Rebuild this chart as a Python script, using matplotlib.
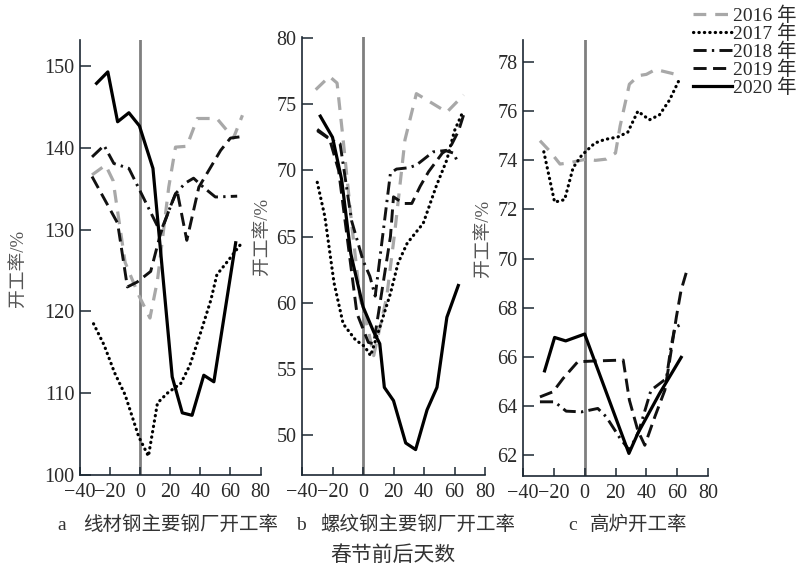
import matplotlib
matplotlib.use("Agg")
import matplotlib.pyplot as plt

plt.rcParams['font.family'] = ['Liberation Serif', 'Noto Sans CJK SC', 'DejaVu Sans']
plt.rcParams['axes.unicode_minus'] = True

years = ['2016 年', '2017 年', '2018 年', '2019 年', '2020 年']

# ---- panel a: 线材钢主要钢厂开工率 ----
a16_x = [-32, -23, -18, -10, -1, 6.5, 11.5, 19, 23.5, 31, 38, 51, 62, 68]
a16_y = [136.7, 137.9, 136.0, 126.0, 122.0, 119.2, 123.8, 135.2, 140.1, 140.2, 143.6, 143.6, 141.2, 144.0]
a17_x = [-31, -24, -17, -10, -1, 5.5, 11.5, 18, 27, 33, 40, 47, 51, 58, 68]
a17_y = [118.5, 115.9, 112.5, 109.8, 104.7, 102.3, 108.8, 110.0, 111.2, 113.4, 117.3, 121.4, 124.5, 126.1, 128.5]
a18_x = [-32, -24, -17.5, -7.5, 13.5, 23.5, 30, 35.5, 42, 50, 64.5]
a18_y = [138.9, 140.3, 138.1, 137.5, 129.7, 134.4, 135.7, 136.3, 135.2, 134.0, 134.1]
a19_x = [-32, -15, -8.5, -2, 7, 13.5, 20, 24.5, 31, 39, 53.5, 60, 68]
a19_y = [136.5, 130.8, 123.0, 123.6, 124.9, 129.5, 132.8, 134.8, 128.7, 135.2, 139.7, 141.2, 141.4]
a20_x = [-29, -21.5, -15, -7.5, -0.5, 8.5, 21.3, 28, 34.5, 42.3, 49, 63.5]
a20_y = [147.9, 149.3, 143.2, 144.3, 142.7, 137.5, 112.0, 107.6, 107.3, 112.2, 111.4, 128.4]

# ---- panel b: 螺纹钢主要钢厂开工率 ----
b16_x = [-31, -22, -17, -13, -7, -2, 3.5, 7, 15.5, 21, 27.5, 35, 45, 55, 66]
b16_y = [76.1, 77.1, 76.6, 72.3, 65.5, 60.4, 57.9, 56.0, 60.4, 65.5, 72.3, 75.8, 75.1, 74.4, 75.7]
b17_x = [-30, -25, -19, -13, -5, 1, 5, 12, 18, 23, 29, 39.5, 48, 55, 60, 65]
b17_y = [69.1, 66.5, 61.5, 58.4, 57.2, 56.7, 56.0, 58.5, 60.7, 63.0, 64.5, 66.0, 68.8, 70.8, 73.0, 74.3]
b18_x = [-30, -21, -15, -7.5, 0, 4.5, 8, 18, 22, 30, 35, 46, 54, 59.5, 62.5]
b18_y = [73.0, 72.3, 72.0, 66.2, 63.2, 62.0, 60.5, 69.8, 70.1, 70.2, 70.4, 71.4, 71.5, 71.3, 70.5]
b19_x = [-30, -22, -16, -11, -4, 3.5, 7, 18, 20, 26.5, 32, 37.5, 43, 52, 57, 62.7, 66]
b19_y = [73.1, 72.4, 70.0, 65.5, 59.2, 57.0, 56.9, 65.0, 68.0, 67.5, 67.5, 68.8, 69.9, 71.3, 71.7, 73.0, 74.2]
b20_x = [-28, -20, -14, -8, -3, 0, 7, 11, 14, 20, 28, 34.5, 42, 48.5, 55, 62.5]
b20_y = [74.1, 72.5, 69.3, 63.7, 61.2, 59.7, 57.8, 56.9, 53.6, 52.6, 49.4, 48.9, 51.9, 53.6, 58.9, 61.3]

# ---- panel c: 高炉开工率 ----
c16_x = [-29, -23, -16, -10, 1, 7, 14, 20, 23, 29, 35, 40, 46, 56, 59]
c16_y = [74.8, 74.4, 73.85, 73.9, 74.05, 74.0, 74.05, 74.3, 75.4, 77.1, 77.45, 77.5, 77.7, 77.55, 77.5]
c17_x = [-26.5, -19.5, -13, -7.5, -2, 6.5, 13, 21.5, 28, 34.5, 42, 48.5, 55, 61.5]
c17_y = [74.35, 72.3, 72.4, 73.7, 74.2, 74.7, 74.85, 74.95, 75.15, 76.0, 75.65, 75.85, 76.45, 77.3]
c18_x = [-29, -19.5, -12, -2, 8.5, 14, 23, 29, 35, 43, 53, 56, 58.5, 64]
c18_y = [64.17, 64.17, 63.79, 63.76, 63.9, 63.56, 62.68, 62.2, 62.95, 64.64, 65.12, 66.4, 67.2, 67.36]
c19_x = [-29, -20.5, -14, -4.5, 5.5, 25, 29, 34.5, 39, 45.5, 52, 55, 59.5, 62.5, 66.5]
c19_y = [64.37, 64.58, 65.12, 65.8, 65.83, 65.87, 64.24, 63.0, 62.4, 63.56, 64.64, 65.8, 67.63, 68.7, 69.56]
c20_x = [-26, -19.5, -12.3, 0, 28.7, 34.6, 48.6, 62.6]
c20_y = [65.43, 66.79, 66.65, 66.93, 62.07, 62.9, 64.51, 65.98]

panels = [
    dict(series=[(a16_x, a16_y), (a17_x, a17_y), (a18_x, a18_y), (a19_x, a19_y), (a20_x, a20_y)],
         ylim=(100, 153.2), yticks=range(100, 151, 10),
         pos=[80/797, 1-475/568, 180.5/797, 435/568], lab=(-0.294, 0.476)),
    dict(series=[(b16_x, b16_y), (b17_x, b17_y), (b18_x, b18_y), (b19_x, b19_y), (b20_x, b20_y)],
         ylim=(46.98, 80.08), yticks=range(50, 81, 5),
         pos=[302/797, 1-475/568, 183/797, 438/568], lab=(-0.169, 0.545)),
    dict(series=[(c16_x, c16_y), (c17_x, c17_y), (c18_x, c18_y), (c19_x, c19_y), (c20_x, c20_y)],
         ylim=(61.15, 78.9), yticks=range(62, 79, 2),
         pos=[523/797, 1-476/568, 185/797, 436/568], lab=(-0.168, 0.545)),
]

styles = [
    dict(color='#a8a8a8', lw=2.3, linestyle=(0, (4, 2.8))),
    dict(color='black', lw=2.3, linestyle=(0, (0.1, 1.6)), dash_capstyle='round'),
    dict(color='#111111', lw=2.1, linestyle=(0, (4.5, 1.8, 0.8, 1.8))),
    dict(color='#111111', lw=2.1, linestyle=(0, (4.5, 2.2))),
    dict(color='black', lw=2.3, linestyle='-'),
]

fig = plt.figure(figsize=(7.97, 5.68), dpi=100)
spine_c = '#1c2833'
handles = []
for p in panels:
    ax = fig.add_axes(p['pos'])
    ax.axvline(0, color='#7f7f7f', lw=2.0, zorder=1)
    hs = []
    for (xs, ys), st in zip(p['series'], styles):
        h, = ax.plot(xs, ys, zorder=3, **st)
        hs.append(h)
    handles = hs
    ax.set_xlim(-40, 80)
    ax.set_ylim(*p['ylim'])
    ax.set_xticks(range(-40, 81, 20))
    ax.set_yticks(list(p['yticks']))
    for s in ['top', 'right']:
        ax.spines[s].set_visible(False)
    for s in ['left', 'bottom']:
        ax.spines[s].set_color(spine_c)
        ax.spines[s].set_linewidth(1.2)
    ax.tick_params(axis='y', direction='in', length=8, width=1.1, color=spine_c,
                   labelsize=14.5, labelcolor='#2a2a2a', pad=4)
    ax.tick_params(axis='x', direction='in', length=5.5, width=1.1, color=spine_c,
                   labelsize=14.5, labelcolor='#2a2a2a', pad=6)
    ax.set_ylabel('开工率/%', fontsize=13.5, color='#555555')
    ax.yaxis.set_label_coords(*p['lab'])
    ax.patch.set_alpha(0)

leg = fig.legend(handles, years, loc='upper right', bbox_to_anchor=(1.012, 1.006),
                 frameon=False, fontsize=14, handlelength=2.0, handletextpad=0.05,
                 labelspacing=-0.02, borderaxespad=0.1)
for t in leg.get_texts():
    t.set_color('#2a2a2a')

fig.text(57/797, 1-525/568, 'a', fontsize=14, color='#333333', va='center', ha='left')
fig.text(83/797, 1-525/568, '线材钢主要钢厂开工率', fontsize=14, color='#333333', va='center', ha='left')
fig.text(296/797, 1-525/568, 'b', fontsize=14, color='#333333', va='center', ha='left')
fig.text(320/797, 1-525/568, '螺纹钢主要钢厂开工率', fontsize=14, color='#333333', va='center', ha='left')
fig.text(568/797, 1-525/568, 'c', fontsize=14, color='#333333', va='center', ha='left')
fig.text(590/797, 1-525/568, '高炉开工率', fontsize=14, color='#333333', va='center', ha='left')
fig.text(393/797, 1-556/568, '春节前后天数', fontsize=15, color='#333333', va='center', ha='center')

fig.savefig('out.png', dpi=100)
